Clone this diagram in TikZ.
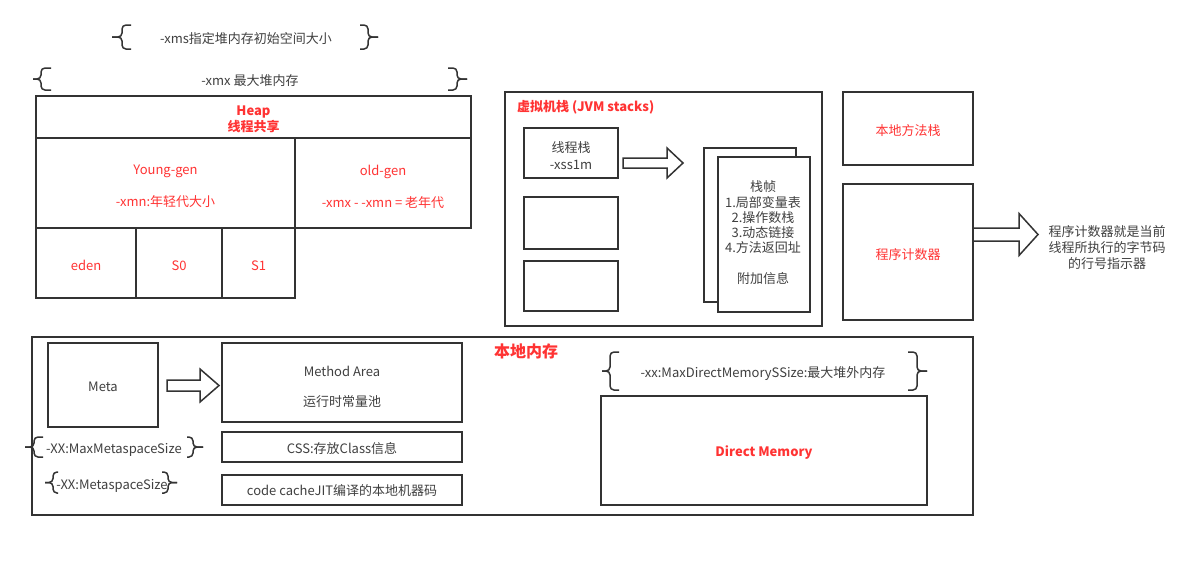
\documentclass[tikz,border=0pt]{standalone}
\usepackage{fontspec}
\setmainfont{Noto Sans CJK SC}
\definecolor{lc}{HTML}{333333}
\definecolor{tg}{HTML}{404040}
\definecolor{rd}{HTML}{FF3333}
\tikzset{
  box/.style={draw=lc, line width=1.5pt, inner sep=0pt, outer sep=0pt, fill=white},
  redtxt/.style={text=rd},
  lbl/.style={inner sep=0pt, text=tg, align=center, font=\fontsize{13}{16}\selectfont},
  bld/.style={font=\bfseries\fontsize{13}{16}\selectfont},
  brc/.style={draw=lc, line width=1.5pt, rounded corners=4pt},
  arr/.style={draw=lc, line width=1.5pt, fill=white, line join=miter}
}
% brace: tip x, line x, end x, top y, bottom y
\newcommand\Brc[5]{%
  \draw[brc] (#3,#4) -- (#2,#4) -- (#2,{(#4+#5)/2}) -- (#1,{(#4+#5)/2});
  \draw[brc] (#1,{(#4+#5)/2}) -- (#2,{(#4+#5)/2}) -- (#2,#5) -- (#3,#5);}
% block arrow: tail x, head base x, tip x, mid y, shaft half, head half
\newcommand\BArr[6]{%
  \draw[arr] (#1,{#4-#5}) -- (#2,{#4-#5}) -- (#2,{#4-#6}) -- (#3,#4) -- (#2,{#4+#6}) -- (#2,{#4+#5}) -- (#1,{#4+#5}) -- cycle;}
\begin{document}
\begin{tikzpicture}[x=1pt,y=-1pt]
\useasboundingbox[fill=white] (0,0) rectangle (1191,571);

% ---- top braces
\Brc{112}{122}{131}{25}{49}
\Brc{378}{368}{360}{25}{49}
\node[lbl] (xms) at (246,38.5) {-xms指定堆内存初始空间大小};
\Brc{33}{41}{51}{68}{90}
\Brc{467}{457}{448}{68}{90}
\node[lbl] (xmx) at (250,80.5) {-xmx 最大堆内存};

% ---- heap
\node[box, minimum width=435, minimum height=42] (heap) at (253.5,117) {};
\node[lbl, bld, redtxt] (heapt) at (253.5,119.5) {Heap\\线程共享};
\node[box, minimum width=259, minimum height=90] (young) at (165.5,183) {};
\node[lbl, redtxt] (youngt) at (165.5,186.5) {Young-gen\\[16pt]-xmn:年轻代大小};
\node[box, minimum width=176, minimum height=90] (old) at (383,183) {};
\node[lbl, redtxt] (oldt) at (383,186.5) {old-gen\\[16pt]-xmx - -xmn = 老年代};
\node[box, minimum width=100, minimum height=70] (eden) at (86,263) {};
\node[lbl, redtxt] (edent) at (86,265.5) {eden};
\node[box, minimum width=86, minimum height=70] (s0) at (179,263) {};
\node[lbl, redtxt] (s0t) at (179,265.5) {S0};
\node[box, minimum width=73, minimum height=70] (s1) at (258.5,263) {};
\node[lbl, redtxt] (s1t) at (258.5,265.5) {S1};

% ---- JVM stacks
\node[box, minimum width=317, minimum height=234] (jvm) at (663.5,209) {};
\node[lbl, bld, anchor=west, text=rd] (jvmt) at (517,107.5) {虚拟机栈 (JVM stacks)};
\node[box, minimum width=94, minimum height=50] (tstack) at (571,153) {};
\node[lbl, font=\fontsize{13}{17}\selectfont] (tstackt) at (571,156) {线程栈\\-xss1m};
\node[box, minimum width=94, minimum height=52] (tbox2) at (571,223) {};
\node[box, minimum width=94, minimum height=50] (tbox3) at (571,286) {};
\BArr{623}{667}{683}{163}{5}{15}
\node[box, minimum width=92, minimum height=154] (fback) at (750,225) {};
\node[box, minimum width=92, minimum height=155] (ffront) at (764,234.5) {};
\node[lbl, font=\fontsize{13}{15.2}\selectfont] (ffrontt) at (763,232.5) {栈帧\\1.局部变量表\\2.操作数栈\\3.动态链接\\4.方法返回址\\[15.2pt]附加信息};

% ---- native stack and PC
\node[box, minimum width=130, minimum height=73] (native) at (908,128.5) {};
\node[lbl, redtxt] (nativet) at (908,131) {本地方法栈};
\node[box, minimum width=130, minimum height=136] (pc) at (908,252) {};
\node[lbl, redtxt] (pct) at (908,254.5) {程序计数器};
\BArr{973}{1019}{1038}{234.5}{6.5}{21}
\node[lbl] (pcdesc) at (1107,248) {程序计数器就是当前\\线程所执行的字节码\\的行号指示器};

% ---- local memory
\node[box, minimum width=941, minimum height=178] (local) at (502.5,426) {};
\node[lbl, text=rd, font=\bfseries\fontsize{16}{18}\selectfont] (localt) at (526,351) {本地内存};
\node[box, minimum width=110, minimum height=84] (meta) at (103,385) {};
\node[lbl] (metat) at (103,387) {Meta};
\BArr{167}{200}{219}{385.5}{5.5}{16.5}
\node[box, minimum width=240, minimum height=79] (method) at (342,382.5) {};
\node[lbl] (methodt) at (342,387) {Method Area\\[14pt]运行时常量池};
\node[box, minimum width=240, minimum height=30] (css) at (342,447) {};
\node[lbl] (csst) at (342,448.5) {CSS:存放Class信息};
\node[box, minimum width=240, minimum height=30] (code) at (342,490) {};
\node[lbl] (codet) at (342,491) {code cacheJIT编译的本地机器码};

\Brc{25}{34}{43}{437}{457}
\Brc{203}{193}{187}{437}{457}
\node[lbl] (maxmeta) at (114,450) {-XX:MaxMetaspaceSize};
\Brc{45}{53}{58}{472}{493}
\Brc{177}{168}{162}{472}{493}
\node[lbl] (metasz) at (112,486) {-XX:MetaspaceSize};

\Brc{602}{610}{619}{352}{390}
\Brc{927}{917}{908}{352}{390}
\node[lbl] (maxdirect) at (763,374) {-xx:MaxDirectMemorySSize:最大堆外内存};
\node[box, minimum width=326, minimum height=109] (direct) at (764,450.5) {};
\node[lbl, bld, redtxt] (directt) at (764,453) {Direct Memory};
\end{tikzpicture}
\end{document}
